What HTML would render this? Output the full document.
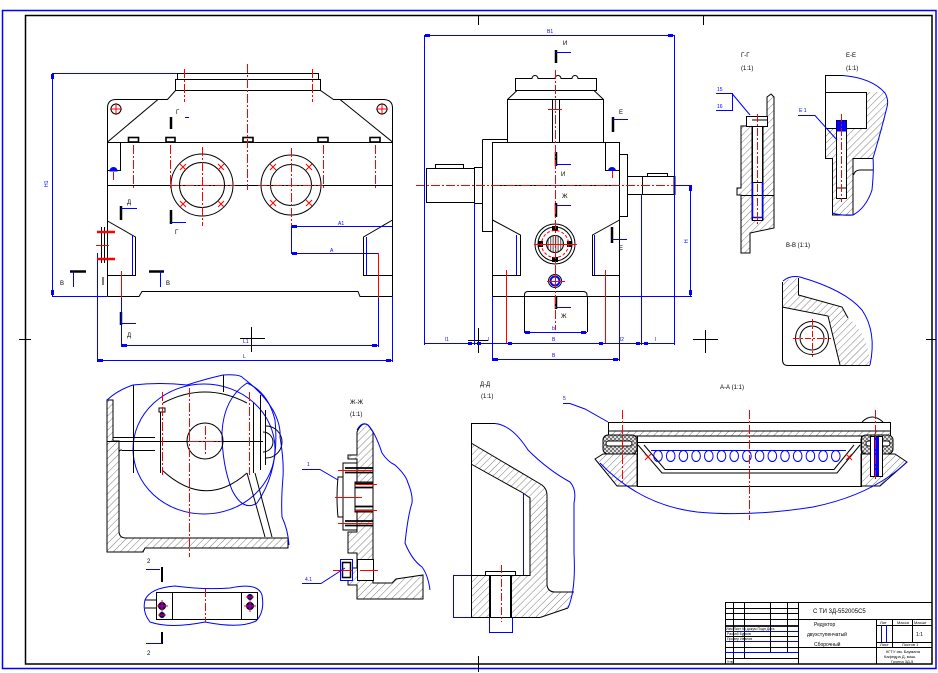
<!DOCTYPE html>
<html><head><meta charset="utf-8"><style>
html,body{margin:0;padding:0;background:#fff;}
svg{display:block;}
text{font-family:"Liberation Sans","DejaVu Sans",sans-serif;}
</style></head><body>
<svg width="938" height="673" viewBox="0 0 938 673" xmlns="http://www.w3.org/2000/svg">
<defs>
<pattern id="h" width="5" height="5" patternUnits="userSpaceOnUse" patternTransform="rotate(45)"><line x1="0" y1="0" x2="0" y2="5" stroke="#444" stroke-width="0.7"/></pattern>
<pattern id="ck" width="4" height="4" patternUnits="userSpaceOnUse"><rect width="4" height="4" fill="#ddd"/><rect width="2" height="2" fill="#777"/><rect x="2" y="2" width="2" height="2" fill="#777"/></pattern>
<pattern id="st" width="2.5" height="4" patternUnits="userSpaceOnUse"><rect width="1.3" height="4" fill="#777"/></pattern>
</defs>
<rect width="938" height="673" fill="#fff"/>

<!-- FRAMES -->
<g fill="none">
<rect x="2.5" y="10.5" width="933.5" height="658" stroke="#00f" stroke-width="1.5"/>
<rect x="25.5" y="15.5" width="906.5" height="648.5" stroke="#000" stroke-width="1.5"/>
<g stroke="#000" stroke-width="1">
<path d="M478.5 15 V25 M703.5 15 V25 M19 339.5 H31 M926 339.5 H936 M478.5 656 V672"/>
<path d="M251.5 327 V352 M240 338.5 H265"/>
<path d="M478.5 328 V353 M468 340.5 H488"/>
<path d="M705.5 330 V353 M700 339.5 H718"/>
<path d="M693 339.5 H700"/>
</g>
</g>

<!-- ================= VIEW 1 (front) ================= -->
<g fill="none" stroke="#000" stroke-width="1">
<rect x="177.5" y="73.5" width="141" height="6"/>
<path d="M175.5 90.5 V79.5 H320.5 V90.5"/>
<path d="M107.5 296.5 V108 Q107.5 99.5 116 99.5 H167.5 L175.5 90.5 H320.5 L333.5 99.5 H383 Q392.5 99.5 392.5 108 V296.5"/>
<path d="M158 99.5 L107.5 142 M340 99.5 L392.5 142"/>
<path d="M107.5 142.5 H392.5 M107.5 185.5 H392.5"/>
<path d="M107.5 296.5 H139 L142 291.5 H358 L360 296.5 H392.5"/>
<path d="M107.5 221 L135.5 237 V275.5 H107.5 M392.5 220 L363.5 237 V275.5 H392.5"/>
<path d="M120.5 142.5 V170.5 H107.5"/>
<circle cx="202" cy="185" r="31"/><circle cx="202" cy="185" r="22.5"/>
<circle cx="291" cy="185" r="30"/><circle cx="291" cy="185" r="20.5"/>
<circle cx="116" cy="109" r="5"/><circle cx="382" cy="109" r="5"/>
<g stroke-width="1.6">
<rect x="128.5" y="137.5" width="10" height="4.5"/>
<rect x="166" y="137.5" width="9" height="4.5"/>
<rect x="243" y="137.5" width="10" height="4.5"/>
<rect x="318" y="137.5" width="10" height="4.5"/>
<rect x="370" y="137.5" width="10" height="4.5"/>
</g>
<path d="M101.5 227 V263 M104.5 227 V263 M103 277 V285"/>
<!-- section markers -->
<g stroke-width="2.5">
<path d="M171 117 V129 M171 210 V224 M121 206 V220 M70 271.5 H86 M149 271.5 H164 M121 312 V325"/>
</g>
</g>
<path d="M110 171 A3.5 3.5 0 0 1 117 171 Z" fill="#00f" stroke="#00f"/>
<g fill="none" stroke="#00f" stroke-width="1">
<path d="M132.5 235 V275 M366.5 237 V275"/>
<path d="M52.5 73 V296 M52 73.5 H177 M52 296.5 H107"/>
<path d="M121.5 298 V347 M378.5 253 V347 M97.5 253 V362 M392.5 296 V362"/>
<path d="M121 345.5 H378 M97 360.5 H392"/>
<path d="M291.5 226 V253 M291 226.5 H392 M291 253.5 H378"/>
<path d="M185 117.5 H189 M171 222.5 H186 M121 208.5 H137 M73.5 271 V287 M160.5 271 V287 M121 323.5 H136"/>
</g>
<g fill="#00f" stroke="none">
<rect x="51" y="74" width="3" height="5"/><rect x="51" y="290" width="3" height="5"/>
<rect x="122" y="344" width="5" height="3"/><rect x="372" y="344" width="5" height="3"/>
<rect x="98" y="359" width="5" height="3"/><rect x="386" y="359" width="5" height="3"/>
<rect x="292" y="225" width="5" height="3"/><rect x="292" y="252" width="5" height="3"/>
</g>
<g fill="none" stroke="#f00" stroke-width="1">
<g stroke-dasharray="9 2 2 2">
<path d="M247.5 64 V190 M184.5 69 V102 M312.5 69 V102"/>
<path d="M133.5 145 V190 M170.5 145 V190 M323.5 145 V190 M375.5 145 V190"/>
<path d="M202.5 147 V226 M291.5 148 V226"/>
<path d="M170 185.5 H235 M258 185.5 H323"/>
</g>
<path d="M110 109 H122 M116 103 V115 M376 109 H388 M382 103 V115"/>
<path d="M180 164 L186 170 M186 164 L180 170 M218 164 L224 170 M224 164 L218 170 M180 201 L186 207 M186 201 L180 207 M218 201 L224 207 M224 201 L218 207"/>
<path d="M270 164 L276 170 M276 164 L270 170 M306 164 L312 170 M312 164 L306 170 M270 200 L276 206 M276 200 L270 206 M306 200 L312 206 M312 200 L306 206"/>
<path d="M121.5 271 V298 M378.5 253 V298 M113.5 172 V180"/>
<path d="M97 232 H115 M97 259 H115" stroke-width="2.5"/>
<path d="M96 245.5 H109"/>
</g>
<g font-size="6" fill="#000">
<text x="176" y="114">Г</text><text x="175" y="234">Г</text>
<text x="127" y="204">Д</text><text x="127" y="337">Д</text>
<text x="60" y="285">В</text><text x="166" y="285">В</text>
</g>
<g font-size="5" fill="#00f">
<text x="48" y="187" transform="rotate(-90 48 187)">H1</text>
<text x="243" y="343">L1</text><text x="243" y="358">L</text>
<text x="338" y="225">A1</text><text x="330" y="252">A</text>
</g>

<!-- ================= VIEW 2 (side) ================= -->
<g fill="none" stroke="#000" stroke-width="1">
<path d="M515.5 90.5 V78.5 H532 A3 3 0 0 1 538 78.5 H555 A3 3 0 0 1 561 78.5 H572 A3 3 0 0 1 578 78.5 H596.5 V90.5 Z"/>
<path d="M517 90.5 L507.5 99.5 M594 90.5 L603.5 99.5"/>
<rect x="507.5" y="99.5" width="96" height="43"/>
<path d="M552.5 99.5 V142.5 M559.5 99.5 V142.5"/>
<rect x="492.5" y="142.5" width="127" height="154"/>
<path d="M482.5 139.5 H507.5 M482.5 139.5 V231.5 H492.5"/>
<rect x="474.5" y="167.5" width="8" height="36"/>
<rect x="426.5" y="168.5" width="48" height="34"/>
<rect x="435.5" y="164.5" width="28" height="4"/>
<rect x="619.5" y="154.5" width="8" height="62"/>
<rect x="627.5" y="176.5" width="15" height="18"/>
<rect x="642.5" y="176.5" width="32" height="18"/>
<rect x="647.5" y="173.5" width="20" height="3"/>
<path d="M674.5 176 V195" stroke-width="2"/>
<path d="M605.5 142.5 V170.5 H619.5"/>
<path d="M492.5 185.5 H619.5"/>
<path d="M492.5 220 L520.5 235 V275.5 H492.5 M619.5 220 L592.5 235 V275.5 H619.5"/>
<path d="M524.5 296.5 V295 Q524.5 291.5 528 291.5 H583 Q587 291.5 587 295 V296.5"/>
<path d="M524.5 296.5 V332 M587.5 296.5 V332"/>
<circle cx="555" cy="244" r="20"/><circle cx="555" cy="244" r="17"/>
<circle cx="555" cy="244" r="8.5" fill="url(#st)"/>
<circle cx="555" cy="281" r="6.5"/>
<g stroke-width="2.5">
<path d="M556 50 V63 M613 117 V132 M556 152 V166 M556 203 V217 M612 227 V243 M556 296 V309"/>
</g>
<g fill="#000" stroke="none">
<rect x="552" y="226" width="6" height="5"/><rect x="552" y="257" width="6" height="5"/>
<rect x="538" y="241" width="5" height="6"/><rect x="567" y="241" width="5" height="6"/>
</g>
</g>
<circle cx="555" cy="244" r="13.5" fill="none" stroke="#f00" stroke-dasharray="3 2"/>
<circle cx="555" cy="281" r="4.5" fill="none" stroke="#00f" stroke-width="2"/>
<path d="M608 171 A4 4 0 0 1 616 171 Z" fill="#00f"/>
<g fill="none" stroke="#f00" stroke-width="1">
<g stroke-dasharray="9 2 2 2">
<path d="M555.5 70 V330 M416 185.5 H682"/>
</g>
<path d="M548 109.5 H562 M534 244.5 H577 M547 281.5 H565 M555.5 273 V289"/>
<path d="M506.5 270 V343 M605.5 270 V343 M612.5 171 V178"/>
</g>
<g fill="none" stroke="#00f" stroke-width="1">
<path d="M424 35.5 H674 M424.5 35 V345 M674.5 35 V345"/>
<path d="M424 343.5 H674 M474.5 203 V345 M641.5 194 V345"/>
<path d="M492.5 296 V361 M619.5 296 V361 M492 359.5 H619"/>
<path d="M690.5 185 V296 M674 185.5 H692 M619 296.5 H692"/>
<path d="M516.5 235 V275 M594.5 235 V275 M524 332.5 H587"/>
<path d="M556 52.5 H571 M613 119.5 H628 M556 164.5 H571 M556 205.5 H571 M612 239.5 H627 M556 307.5 H571"/>
</g>
<g fill="#00f" stroke="none">
<rect x="425" y="34" width="5" height="3"/><rect x="668" y="34" width="5" height="3"/>
<rect x="689" y="186" width="3" height="5"/><rect x="689" y="290" width="3" height="5"/>
<rect x="493" y="358" width="5" height="3"/><rect x="613" y="358" width="5" height="3"/>
<rect x="525" y="331" width="5" height="3"/><rect x="581" y="331" width="5" height="3"/>
<rect x="468" y="342" width="4" height="3"/><rect x="477" y="342" width="4" height="3"/><rect x="508" y="342" width="4" height="3"/><rect x="599" y="342" width="4" height="3"/><rect x="636" y="342" width="4" height="3"/><rect x="644" y="342" width="4" height="3"/>
</g>
<g font-size="6" fill="#000">
<text x="563" y="45">И</text><text x="619" y="114">Е</text><text x="561" y="176">И</text>
<text x="562" y="198">Ж</text><text x="619" y="250">Е</text><text x="561" y="318">Ж</text>
</g>
<g font-size="5" fill="#00f">
<text x="547" y="33">B1</text><text x="445" y="341">l1</text><text x="488" y="341">l</text>
<text x="552" y="341">B</text><text x="620" y="341">l2</text><text x="655" y="341">l</text>
<text x="552" y="357">B</text><text x="552" y="330">b</text>
<text x="688" y="243" transform="rotate(-90 688 243)">H</text>
</g>

<!-- ================= Г-Г ================= -->
<g font-size="6" fill="#000">
<text x="741" y="57">Г-Г</text><text x="741" y="70">(1:1)</text>
<text x="846" y="57">Е-Е</text><text x="846" y="70">(1:1)</text>
<text x="786" y="247">В-В (1:1)</text>
</g>
<path d="M741 126 H752 V220 H763 V126 H767 V97 L771 94 L774 97 V228 L750 233 V253 H741 V195 H737 V188 H741 Z" fill="url(#h)" stroke="#000"/>
<g fill="#fff" stroke="#000" stroke-width="1">
<rect x="746.5" y="116.5" width="21" height="10"/>
<rect x="752.5" y="126.5" width="10" height="94"/>
</g>
<g fill="none" stroke="#000"><path d="M741 195.5 H774 M752 182.5 H763 M752 120 H767"/></g>
<g fill="none" stroke="#00f" stroke-width="1.5"><path d="M752.5 182 V218 M762.5 182 V218 M752 217.5 H763"/></g>
<path d="M757.5 114 V224" stroke="#f00" stroke-dasharray="8 2 2 2" fill="none"/>
<g fill="none" stroke="#00f"><path d="M716 93.5 H732.5 V110.5 H716 M732 93.5 L750 115"/></g>
<g font-size="5" fill="#00f"><text x="717" y="91">15</text><text x="717" y="108">16</text></g>

<!-- ================= Е-Е ================= -->
<path d="M825 128 H866 V92 H885 Q888 100 887 107 Q884 130 873 158 H853 V215 H832 V158 H825 Z" fill="url(#h)" stroke="none"/>
<g fill="none" stroke="#000">
<path d="M825.5 75 V158.5 H832.5 V215 H853 V158.5 H873"/>
<path d="M825 75.5 H843"/>
<rect x="825.5" y="92.5" width="41" height="36" fill="#fff"/>
<path d="M853.5 175 Q855 170 860 170 H873"/>
</g>
<rect x="836.5" y="120.5" width="10" height="78" fill="#fff" stroke="#000"/>
<rect x="837" y="121" width="9" height="10" fill="#00f" stroke="#00f"/>
<path d="M836.5 188 H846.5" stroke="#000"/>
<path d="M843 75.5 Q872 78 885 93 Q889 100 887 107 Q880 135 873 158 Q874 170 872 190 Q866 208 853 215 Q842 216 832 213" fill="none" stroke="#00f"/>
<path d="M841.5 114 V202" stroke="#f00" stroke-dasharray="8 2 2 2" fill="none"/>
<path d="M798 115.5 H815 L837 140" fill="none" stroke="#00f"/>
<text x="799" y="112" font-size="5" fill="#00f">Е 1</text>

<!-- ================= В-В ================= -->
<path d="M782 287 Q783 281 790 279 L798 278 V295 L842 307 L848 318 Q868 332 870 365 H840 L828 316 L782 307 Z" fill="url(#h)" stroke="none"/>
<g fill="none" stroke="#000">
<path d="M782.5 282 V360 Q782.5 365.5 788 365.5 H870"/>
<path d="M798.5 278 V295 L842 307 L848 318"/>
<path d="M782 307 L828 316 L840 365"/>
<circle cx="812" cy="338" r="16.5" fill="#fff"/><circle cx="812" cy="338" r="12"/>
</g>
<path d="M783 281 Q790 275 800 277 Q845 290 862 310 Q877 332 870 365" fill="none" stroke="#00f"/>
<path d="M793 338.5 H831 M812.5 319 V357" stroke="#f00" stroke-dasharray="6 2 2 2" fill="none"/>

<!-- ================= VIEW 3 (bottom-left section) ================= -->
<ellipse cx="204" cy="449" rx="71" ry="65" fill="none" stroke="#00f"/>
<path d="M222 432 Q224 398 247 383 Q268 392 275 420 Q280 470 257 503 Q243 512 232 490 Q222 465 222 432 Z" fill="none" stroke="#00f"/>
<path d="M107 400 H113 V441 H119 V531 Q119 538 126 538 H288 V548 H145 L143 552 H107 Z" fill="url(#h)" stroke="#000"/>
<g fill="none" stroke="#000">
<path d="M107 441.5 H263"/>
<path d="M113 437.5 H155 M122 450.5 H155 M119 452 Q119 450 122 450"/>
<path d="M133.5 385 V473 M160.5 412 V473 M253.5 403 V473 M223.5 375 V392 M260.5 395 V470 M265.5 410 V465"/>
<path d="M163 403 Q205 381 247 403 M162 470 Q205 510 247 473"/>
<circle cx="205" cy="441" r="18"/>
<path d="M247 473 L265 537 M255 473 L272 537"/>
<path d="M263 432 A10 10 0 0 1 263 452 M266 426 A16 16 0 0 1 266 458"/>
<rect x="159" y="408" width="6" height="4"/>
</g>
<path d="M107 400 Q118 390 133 385 Q160 382 187 385 Q205 379 223 375 Q240 374 243 378 Q262 392 273 410 Q281 425 280 437 Q284 460 283 477 Q281 500 282 517 Q288 530 289 545" fill="none" stroke="#00f"/>
<g fill="none" stroke="#f00" stroke-dasharray="9 2 2 2">
<path d="M162.5 392 V475 M189.5 388 V557 M249.5 392 V475 M190 441.5 H222 M205.5 426 V456"/>
</g>
<!-- section 2 markers & small view -->
<g fill="none" stroke="#000">
<path d="M162 567 V582 M162 632 V644" stroke-width="2"/>
<rect x="156.5" y="592.5" width="101" height="27"/>
<path d="M172.5 592 V620 M241.5 592 V620 M145 600 H156 M145 608 H156"/>
</g>
<g fill="none" stroke="#00f">
<path d="M146 569.5 H160 M146 643.5 H162"/>
<path d="M145 600 Q150 588 175 586 Q205 590 230 588 Q258 582 262 595 Q265 612 256 621 Q240 629 205 622 Q170 629 150 622 Q142 612 145 600 Z"/>
</g>
<g stroke="#000" fill="#00f">
<circle cx="162" cy="606" r="3.5"/><circle cx="162" cy="615" r="2.5"/>
<circle cx="250" cy="597" r="2.5"/><circle cx="250" cy="606" r="3.5"/>
</g>
<g fill="none" stroke="#f00">
<path d="M205.5 589 V622" stroke-dasharray="8 2 2 2"/>
<path d="M156 606 H168 M162 600 V612 M158 615 H166 M244 606 H256 M250 600 V612 M246 597 H254"/>
</g>
<g font-size="6" fill="#000"><text x="147" y="563">2</text><text x="147" y="655">2</text></g>

<!-- ================= Ж-Ж ================= -->
<g font-size="6" fill="#000"><text x="350" y="404">Ж-Ж</text><text x="350" y="416">(1:1)</text></g>
<path d="M357 432 Q362 421 368 425 L373 432 V583 H392 L396 579 L423 575 V599 H357 V585 H348 V568 H357 V553 H348 V532 H357 V459 H348 V455 H357 Z" fill="url(#h)" stroke="#000"/>
<g fill="#fff" stroke="#000">
<path d="M343 463 H357 V530 H343 Z"/>
<path d="M338 477 Q336 497 338 517 H343 V477 Z"/>
<rect x="355" y="482" width="18" height="30"/>
</g>
<g stroke="#000" stroke-width="1.8" fill="none">
<path d="M345 468 H373 M345 472.5 H373 M345 521 H373 M345 525.5 H373"/>
<path d="M355 483.5 H373 M355 487.5 H373 M355 506.5 H373 M355 510.5 H373"/>
</g>
<rect x="357.5" y="559.5" width="16" height="21" fill="#fff" stroke="#000"/>
<rect x="340.5" y="559.5" width="12" height="21" fill="#fff" stroke="#00f"/>
<rect x="342.5" y="562.5" width="8" height="15" fill="none" stroke="#000" stroke-width="1.5"/>
<g fill="none" stroke="#f00">
<path d="M338 470.5 H373 M355 484.5 H377 M335 497.5 H362 M355 510.5 H377 M338 523.5 H373 M333 570.5 H352 M360 570.5 H378"/>
</g>
<path d="M357 430 Q362 421 368 425 Q375 432 382 453 Q388 462 395 465 Q406 475 408 483 Q413 495 412 503 Q408 515 405 543 Q412 560 422 567 Q428 575 430 590" fill="none" stroke="#00f"/>
<g fill="none" stroke="#00f">
<path d="M302 469.5 H320 L338 480 M302 583.5 H321 L345 568"/>
</g>
<g font-size="5" fill="#00f"><text x="307" y="466">1</text><text x="305" y="581">4.1</text></g>

<!-- ================= Д-Д ================= -->
<g font-size="6" fill="#000"><text x="480" y="386">Д-Д</text><text x="481" y="398">(1:1)</text></g>
<path d="M471 443 L542 485 Q547 489 547 495 V585 Q548 592 555 592 H574 L568 608 L540 617 H512 V575 H530 V498 L523 493 L471 464 Z" fill="url(#h)" stroke="none"/>
<path d="M471 575 H489 V617 H471 Z" fill="url(#h)" stroke="none"/>
<g fill="none" stroke="#000">
<path d="M471.5 423 V617.5 H540 L568 608"/>
<path d="M471 423.5 H495"/>
<path d="M471 443 L542 485 Q547 489 547 495 V585 Q548 592 555 592 H574"/>
<path d="M471 464 L523 493 L530 498 V575.5 H515 M471 575.5 H485"/>
<rect x="485.5" y="571.5" width="30" height="4"/>
<path d="M490 575 V617 M511 575 V617" stroke-width="2"/>
</g>
<path d="M495 423.5 Q512 425 528 450 Q548 470 570 482 Q577 490 574 503 V553 Q576 590 568 608" fill="none" stroke="#00f"/>
<g fill="none" stroke="#00f">
<path d="M523.5 493 V575 M453.5 575 V617 M453 575.5 H471 M453 617.5 H471 M489.5 617 V633 M512.5 617 V633 M489 632.5 H512"/>
</g>
<path d="M501.5 565 V622" stroke="#f00" stroke-dasharray="8 2 2 2" fill="none"/>
<path d="M563 403.5 H570 L585 409 L608 422" fill="none" stroke="#00f"/>
<text x="563" y="400" font-size="5" fill="#00f">5</text>

<!-- ================= А-А ================= -->
<text x="720" y="389" font-size="6" fill="#000">А-А (1:1)</text>
<path d="M595 459 L603 454 H637 V486 H617 Z" fill="url(#h)" stroke="#000"/>
<path d="M861 454 H895 L907 462 L880 486 H861 Z" fill="url(#h)" stroke="#000"/>
<rect x="608.5" y="422.5" width="282" height="8.5" fill="#fff" stroke="#000"/>
<rect x="608.5" y="431" width="282" height="5" fill="url(#h)" stroke="#000"/>
<rect x="603" y="435" width="34" height="19" rx="5" fill="url(#ck)" stroke="#000"/>
<rect x="861" y="435" width="32" height="19" rx="5" fill="url(#ck)" stroke="#000"/>
<rect x="606" y="441" width="26" height="5" rx="2.5" fill="#fff" stroke="#000"/>
<rect x="866" y="441" width="24" height="5" rx="2.5" fill="#fff" stroke="#000"/>
<g fill="none" stroke="#000">
<path d="M637.5 436 V486.5 H861.5 V436"/>
<path d="M637 442.5 H861"/>
<path d="M638 445 L662 473 H837 L860 445 M644 445 L665 469.5 H834 L854 445"/>
<path d="M862 422 Q872 412 883 422"/>
</g>
<rect x="870.5" y="436.5" width="12" height="40" fill="#fff" stroke="#000"/>
<rect x="874" y="437" width="5" height="39" fill="#00f"/>
<g fill="none" stroke="#00f" stroke-width="1">
<path d="M651 450.5 H846"/>
<ellipse cx="658" cy="456" rx="4.3" ry="5.5"/><ellipse cx="670.7" cy="456" rx="4.3" ry="5.5"/>
<ellipse cx="683.4" cy="456" rx="4.3" ry="5.5"/><ellipse cx="696.1" cy="456" rx="4.3" ry="5.5"/>
<ellipse cx="708.8" cy="456" rx="4.3" ry="5.5"/><ellipse cx="721.5" cy="456" rx="4.3" ry="5.5"/>
<ellipse cx="734.2" cy="456" rx="4.3" ry="5.5"/><ellipse cx="746.9" cy="456" rx="4.3" ry="5.5"/>
<ellipse cx="759.6" cy="456" rx="4.3" ry="5.5"/><ellipse cx="772.3" cy="456" rx="4.3" ry="5.5"/>
<ellipse cx="785" cy="456" rx="4.3" ry="5.5"/><ellipse cx="797.7" cy="456" rx="4.3" ry="5.5"/>
<ellipse cx="810.4" cy="456" rx="4.3" ry="5.5"/><ellipse cx="823.1" cy="456" rx="4.3" ry="5.5"/>
<ellipse cx="835.8" cy="456" rx="4.3" ry="5.5"/>
<path d="M600 463 Q640 505 697 512 Q750 517 813 507 Q872 495 907 462"/>
</g>
<g fill="none" stroke="#f00">
<path d="M622.5 410 V482 M749.5 410 V520 M875.5 410 V480" stroke-dasharray="9 2 2 2"/>
<path d="M645 454 L651 460 M651 454 L645 460 M846 454 L852 460 M852 454 L846 460"/>
</g>

<!-- ================= TITLE BLOCK ================= -->
<g fill="none" stroke="#000" stroke-width="1">
<rect x="725.5" y="602.5" width="206.5" height="61.5"/>
<path d="M733.5 602 V664 M744.5 602 V658 M770.5 602 V652 M787.5 602 V652 M798.5 602 V664"/>
<path d="M725 608.5 H798 M725 613.5 H798 M725 619.5 H932 M725 636.5 H798 M725 647.5 H932 M725 658.5 H798"/>
<path d="M725 626 H798" stroke-width="1.8"/>
<path d="M876.5 619 V664 M892.5 619 V647 M912.5 619 V642 M876 625.5 H932 M876 642.5 H932"/>
</g>
<g fill="none" stroke="#00f" stroke-width="1">
<path d="M725 631.5 H798 M725 641.5 H798 M725 652.5 H798 M881.5 625 V642 M886.5 625 V642"/>
</g>
<g font-size="5" fill="#000">
<text x="813" y="613" font-size="6">С ТИ 3Д-552005С5</text>
<text x="814" y="626">Редуктор</text>
<text x="807" y="636">двухступенчатый</text>
<text x="814" y="646">Сборочный</text>
<text x="880" y="624" font-size="4">Лит</text><text x="897" y="624" font-size="4">Масса</text><text x="914" y="624" font-size="4">Масшт</text>
<text x="916" y="636">1:1</text>
<text x="880" y="646" font-size="4">Лист</text><text x="902" y="646" font-size="4">Листов 1</text>
<text x="886" y="653" font-size="4">КГТУ им. Баумана</text>
<text x="884" y="658" font-size="4">Кафедра Д. маш.</text>
<text x="891" y="663" font-size="4">Группа 3Д-5</text>
<text x="726" y="630" font-size="3.5">Изм Лист  № докум  Подп  Дата</text>
<text x="727" y="635" font-size="3.5">Разраб  Бурков</text>
<text x="727" y="640" font-size="3.5">Провер  Иванов</text>
<text x="727" y="663" font-size="3.5">Утв</text>
</g>
</svg>
</body></html>
